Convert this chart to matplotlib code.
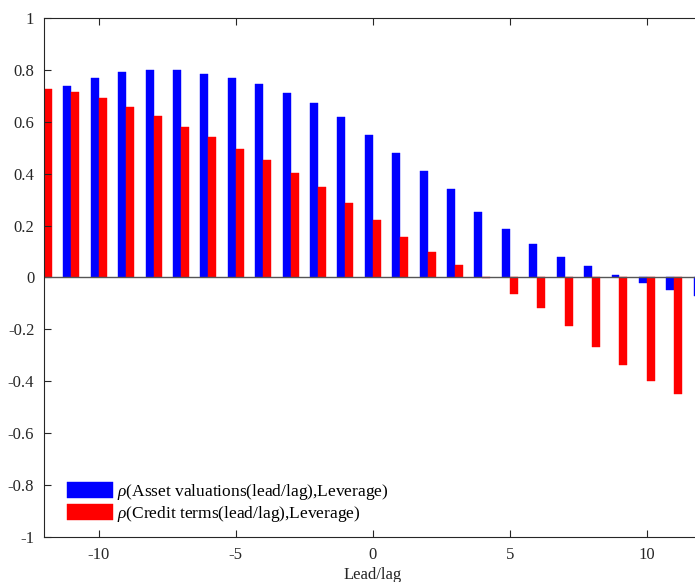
import numpy as np
import matplotlib
matplotlib.use("Agg")
import matplotlib.pyplot as plt

plt.rcParams['font.family'] = 'Liberation Serif'
plt.rcParams['mathtext.fontset'] = 'custom'
plt.rcParams['mathtext.rm'] = 'Liberation Serif'
plt.rcParams['mathtext.it'] = 'Liberation Serif:italic'

# lead/lag and correlations
lags = np.arange(-12, 13)
rho_asset = [0.70, 0.736, 0.770, 0.791, 0.800, 0.799, 0.785, 0.770, 0.744, 0.712,
             0.671, 0.619, 0.549, 0.480, 0.410, 0.341, 0.254, 0.185, 0.130, 0.080,
             0.044, 0.010, -0.023, -0.049, -0.07]
rho_credit = [0.726, 0.716, 0.693, 0.658, 0.622, 0.581, 0.541, 0.497, 0.454, 0.403,
              0.347, 0.288, 0.222, 0.155, 0.099, 0.049, -0.003, -0.062, -0.118, -0.186,
              -0.266, -0.336, -0.400, -0.448, -0.49]
x_ticks = [-10, -5, 0, 5, 10]
y_ticks = [-1, -0.8, -0.6, -0.4, -0.2, 0, 0.2, 0.4, 0.6, 0.8, 1]

fig = plt.figure(figsize=(6.95, 5.82), dpi=100)
ax = fig.add_axes([0.0633, 0.0773, 0.966, 0.8918])

w = 0.29
ax.bar(lags - w / 2, rho_asset, width=w, color='#0000ff', edgecolor='#0000ff', lw=0.3,
       label=r'$\rho$(Asset valuations(lead/lag),Leverage)')
ax.bar(lags + w / 2, rho_credit, width=w, color='#ff0000', edgecolor='#ff0000', lw=0.3,
       label=r'$\rho$(Credit terms(lead/lag),Leverage)')
ax.axhline(0, color='#555555', lw=1.0)

ax.set_xlim(-12, 12.5)
ax.set_ylim(-1, 1)
ax.set_xticks(x_ticks)
ax.set_xticklabels([str(v) for v in x_ticks])
ax.set_yticks(y_ticks)
ax.set_yticklabels([f'{v:g}' for v in y_ticks])
ax.tick_params(direction='in', top=True, length=5, width=0.8, labelsize=12,
               colors='#262626', pad=7)
for s in ['left', 'top', 'bottom']:
    ax.spines[s].set_color('#262626')
    ax.spines[s].set_linewidth(0.8)
ax.spines['right'].set_visible(False)

ax.set_xlabel('Lead/lag', fontsize=12, color='#262626')
ax.xaxis.set_label_coords((373 - 44) / (0.966 * 695), -0.057)

ax.legend(loc='lower left', bbox_to_anchor=(0.024, 0.012), frameon=False, fontsize=12.5,
          handlelength=2.65, handleheight=1.0, handletextpad=0.25, labelspacing=0.12,
          borderaxespad=0)

fig.savefig('out.png', dpi=100)
